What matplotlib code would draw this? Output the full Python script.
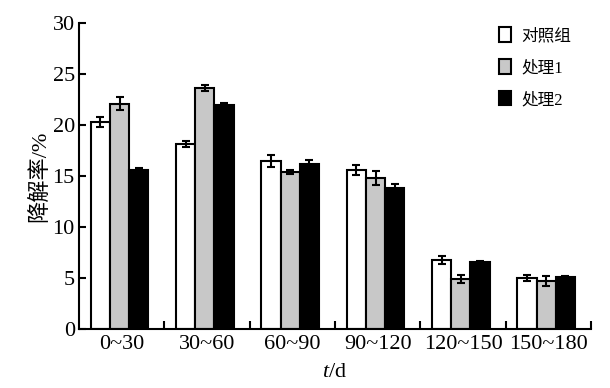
import matplotlib
matplotlib.use("Agg")
import matplotlib.pyplot as plt
import numpy as np

plt.rcParams['font.family'] = ['Liberation Serif', 'Noto Sans CJK SC']
plt.rcParams['mathtext.fontset'] = 'custom'
plt.rcParams['mathtext.it'] = 'Liberation Serif:italic'

periods = ["0~30", "30~60", "60~90", "90~120", "120~150", "150~180"]
series_names = ["对照组", "处理1", "处理2"]
control = [20.3, 18.1, 16.5, 15.6, 6.8, 5.0]
control_err = [0.5, 0.3, 0.6, 0.5, 0.4, 0.3]
treat1 = [22.1, 23.6, 15.4, 14.8, 4.9, 4.7]
treat1_err = [0.6, 0.3, 0.2, 0.7, 0.4, 0.5]
treat2 = [15.6, 22.0, 16.2, 13.8, 6.6, 5.1]
treat2_err = [0.2, 0.2, 0.4, 0.4, 0.1, 0.1]

colors = ["white", "#c8c8c8", "black"]

fig = plt.figure(figsize=(6.1, 3.88), dpi=100)
ax = fig.add_axes([79 / 610, 59 / 388, 512 / 610, 306 / 388])

x = np.arange(len(periods))
w = 0.225
for i, (vals, errs) in enumerate([(control, control_err), (treat1, treat1_err), (treat2, treat2_err)]):
    ax.bar(x + (i - 1) * w - 0.025, vals, w, yerr=errs, color=colors[i], edgecolor="black",
           linewidth=1.5, label=series_names[i],
           error_kw=dict(ecolor="black", elinewidth=1.5, capsize=3, capthick=1.5))

ax.set_xlim(-0.5, 5.5)
ax.set_ylim(0, 30)
ax.set_yticks(range(0, 31, 5))
ax.set_xticks(np.arange(0.5, 6, 1))
ax.set_xticklabels([])
ax.set_xticks(x, minor=True)
ax.set_xticklabels(periods, minor=True)
ax.tick_params(axis="x", which="minor", length=0, labelsize=16, pad=4)
ax.tick_params(axis="x", which="major", direction="in", length=6, width=1.5)
ax.tick_params(axis="y", direction="in", length=5, width=1.5, labelsize=16, pad=3)

for s in ["top", "right"]:
    ax.spines[s].set_visible(False)
for s in ["left", "bottom"]:
    ax.spines[s].set_linewidth(1.5)

ax.set_ylabel("降解率/%", fontsize=16, labelpad=2)
ax.set_xlabel("$t$/d", fontsize=16, labelpad=7)

leg = ax.legend(loc="upper right", frameon=False, fontsize=12, handlelength=0.75,
                handleheight=0.95, handletextpad=0.6, labelspacing=0.9,
                bbox_to_anchor=(0.99, 1.035))

fig.savefig("out.png", dpi=100)
